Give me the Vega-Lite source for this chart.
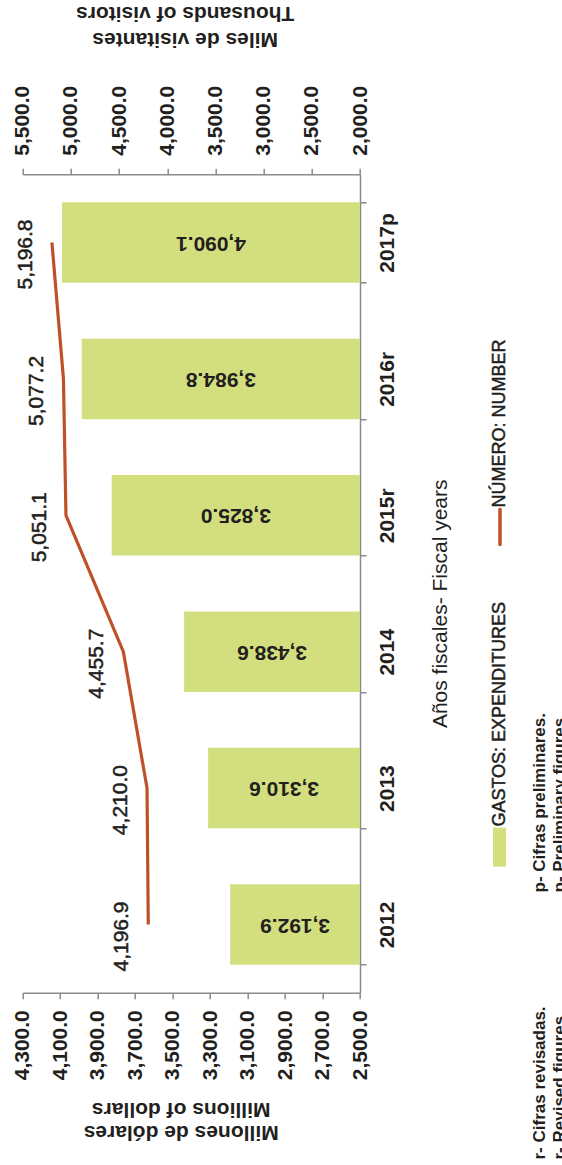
{
  "$schema": "https://vega.github.io/schema/vega-lite/v6.json",
  "width": 337.3,
  "height": 818.4,
  "autosize": {"type": "none"},
  "padding": {"left": 22.7, "top": 174.3, "right": 202, "bottom": 172.3},
  "background": "#ffffff",
  "config": {
    "view": {"stroke": null},
    "font": "Liberation Sans",
    "axis": {
      "domainColor": "#8a8a8a", "domainWidth": 1.5,
      "tickColor": "#8a8a8a", "tickWidth": 1.5, "tickSize": 6,
      "grid": false,
      "labelFont": "Liberation Sans", "labelFontSize": 21, "labelFontWeight": "bold", "labelColor": "#231f20",
      "titleFont": "Liberation Sans", "titleFontSize": 21, "titleFontWeight": "bold", "titleColor": "#231f20",
      "labelOverlap": false, "labelLimit": 0, "labelFlush": false
    }
  },
  "data": {"values": [
    {"year": "2012", "gastos": 3192.9, "visitantes": 4196.9},
    {"year": "2013", "gastos": 3310.6, "visitantes": 4210.0},
    {"year": "2014", "gastos": 3438.6, "visitantes": 4455.7},
    {"year": "2015r", "gastos": 3825.0, "visitantes": 5051.1},
    {"year": "2016r", "gastos": 3984.8, "visitantes": 5077.2},
    {"year": "2017p", "gastos": 4090.1, "visitantes": 5196.8}
  ]},
  "encoding": {
    "y": {
      "field": "year", "type": "ordinal",
      "scale": {"domain": ["2017p", "2016r", "2015r", "2014", "2013", "2012"], "paddingInner": 0.41, "paddingOuter": 0.205},
      "axis": {
        "orient": "right", "tickBand": "extent", "labelOverlap": false,
        "labelAngle": -90, "labelAlign": "center", "labelBaseline": "alphabetic", "labelPadding": 27,
        "title": "Años fiscales- Fiscal years", "titleAngle": -90, "titleAlign": "center", "titleBaseline": "middle",
        "titleX": 80, "titleY": 429, "titleFontWeight": "normal"
      }
    }
  },
  "layer": [
    {
      "mark": {"type": "bar", "color": "#D3DF7F"},
      "encoding": {
        "x": {
          "field": "gastos", "type": "quantitative",
          "scale": {"domain": [2500, 4300], "reverse": true, "zero": false, "nice": false},
          "axis": {
            "orient": "bottom", "values": [2500, 2700, 2900, 3100, 3300, 3500, 3700, 3900, 4100, 4300], "format": ",.1f",
            "labelOverlap": false,
            "labelAngle": -90, "labelAlign": "right", "labelBaseline": "middle", "labelPadding": 11,
            "title": ["Millones de dólares", "Millions of dollars"], "titleAngle": 180, "titleAlign": "center", "titleBaseline": "middle",
            "titleX": 158, "titleY": 139, "titleLineHeight": 23
          }
        },
        "x2": {"datum": 2500}
      }
    },
    {
      "mark": {"type": "text", "angle": 180, "align": "center", "baseline": "middle", "fontSize": 21, "fontWeight": "bold", "color": "#231f20"},
      "encoding": {
        "x": {"field": "gastos", "type": "quantitative", "scale": {"domain": [2500, 6100], "reverse": true, "zero": false, "nice": false}, "axis": null},
        "text": {"field": "gastos", "type": "quantitative", "format": ",.1f"}
      }
    },
    {
      "encoding": {
        "x": {
          "field": "visitantes", "type": "quantitative",
          "scale": {"domain": [2000, 5500], "reverse": true, "zero": false, "nice": false},
          "axis": {
            "orient": "top", "values": [2000, 2500, 3000, 3500, 4000, 4500, 5000, 5500], "format": ",.1f",
            "labelOverlap": false,
            "labelAngle": -90, "labelAlign": "left", "labelBaseline": "middle", "labelPadding": 13,
            "title": ["Miles de visitantes", "Thousands of visitors"], "titleAngle": 180, "titleAlign": "center", "titleBaseline": "middle",
            "titleX": 162, "titleY": -136, "titleLineHeight": 26
          }
        }
      },
      "layer": [
        {"mark": {"type": "line", "color": "#BE5128", "strokeWidth": 3.2}},
        {
          "mark": {"type": "text", "angle": -90, "align": "center", "baseline": "middle", "dx": -12, "dy": -26, "fontSize": 21, "color": "#231f20", "stroke": "#231f20", "strokeWidth": 0.5},
          "encoding": {"text": {"field": "visitantes", "type": "quantitative", "format": ",.1f"}}
        }
      ]
    },
    {
      "layer": [
        {
          "data": {"values": [{"label": "GASTOS:  EXPENDITURES"}]},
          "mark": {"type": "text", "angle": -90, "align": "left", "baseline": "middle", "dx": -38.5, "fontSize": 18, "color": "#231f20", "stroke": "#231f20", "strokeWidth": 0.5},
          "encoding": {"x": {"datum": 1752.9, "type": "quantitative", "scale": {"domain": [2500, 4300], "reverse": true, "zero": false, "nice": false}, "axis": null}, "y": {"datum": "2013", "type": "ordinal"}, "text": {"field": "label"}}
        },
        {
          "data": {"values": [{"label": "NÚMERO: NUMBER"}]},
          "mark": {"type": "text", "angle": -90, "align": "left", "baseline": "middle", "dx": 7.7, "fontSize": 18, "color": "#231f20", "stroke": "#231f20", "strokeWidth": 0.5},
          "encoding": {"x": {"datum": 1752.9, "type": "quantitative", "axis": null}, "y": {"datum": "2015r", "type": "ordinal"}, "text": {"field": "label"}}
        },
        {
          "data": {"values": [{"label": "GASTOS"}]},
          "mark": {"type": "point", "shape": "M-0.35,1.975L0.3,1.975L0.3,3.925L-0.35,3.925Z", "size": 1600, "filled": true, "opacity": 1, "color": "#D3DF7F", "strokeWidth": 0},
          "encoding": {"x": {"datum": 1752.9, "type": "quantitative", "axis": null}, "y": {"datum": "2013", "type": "ordinal"}}
        },
        {
          "data": {"values": [{"label": "NUMERO"}]},
          "mark": {"type": "point", "shape": "M0,-0.326L0,1.674", "size": 1225, "filled": false, "opacity": 1, "color": "#BE5128", "strokeWidth": 3.5, "strokeCap": "round"},
          "encoding": {"x": {"datum": 1752.9, "type": "quantitative", "axis": null}, "y": {"datum": "2015r", "type": "ordinal"}}
        },
        {
          "data": {"values": [{"label": ["r- Cifras revisadas.", "r- Revised figures."]}]},
          "mark": {"type": "text", "angle": -90, "align": "left", "baseline": "alphabetic", "dx": -235, "fontSize": 17, "fontWeight": "bold", "lineHeight": 20, "color": "#231f20"},
          "encoding": {"x": {"datum": 1512.7, "type": "quantitative", "axis": null}, "y": {"datum": "2012", "type": "ordinal"}, "text": {"field": "label"}}
        },
        {
          "data": {"values": [{"label": ["p- Cifras preliminares.", "p- Preliminary figures."]}]},
          "mark": {"type": "text", "angle": -90, "align": "left", "baseline": "alphabetic", "dx": 32, "fontSize": 17, "fontWeight": "bold", "lineHeight": 20, "color": "#231f20"},
          "encoding": {"x": {"datum": 1512.7, "type": "quantitative", "axis": null}, "y": {"datum": "2012", "type": "ordinal"}, "text": {"field": "label"}}
        }
      ]
    }
  ],
  "resolve": {"scale": {"x": "independent"}}
}
